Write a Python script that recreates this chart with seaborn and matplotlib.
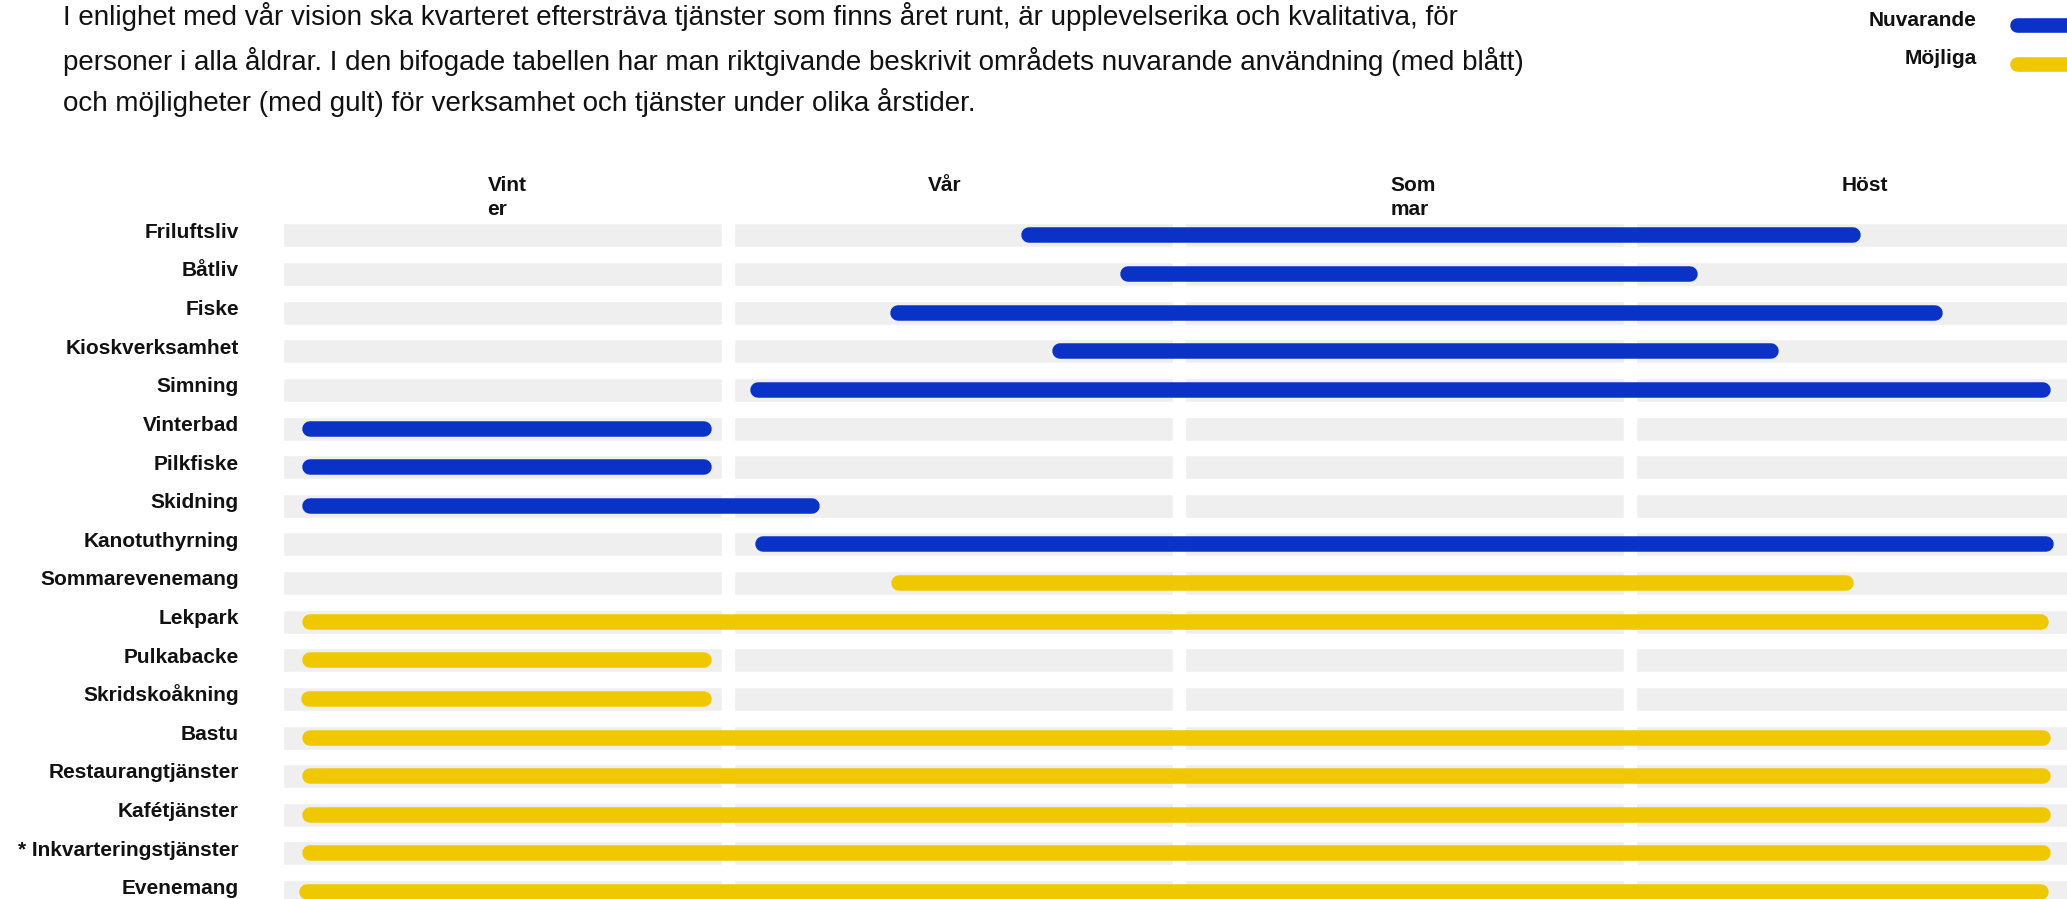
import pandas as pd
import matplotlib.pyplot as plt
from matplotlib.lines import Line2D
import seaborn as sns

# --- data ------------------------------------------------------------------
activities = ["Friluftsliv", "Båtliv", "Fiske", "Kioskverksamhet", "Simning",
              "Vinterbad", "Pilkfiske", "Skidning", "Kanotuthyrning",
              "Sommarevenemang", "Lekpark", "Pulkabacke", "Skridskoåkning",
              "Bastu", "Restaurangtjänster", "Kafétjänster",
              "* Inkvarteringstjänster", "Evenemang"]
status = ["Nuvarande"] * 9 + ["Möjliga"] * 9
# season axis in months: Vinter 0-3, Vår 3-6, Sommar 6-9, Höst 9-12
start = [4.91, 5.57, 4.04, 5.12, 3.11, 0.13, 0.13, 0.13, 3.14,
         4.05, 0.13, 0.13, 0.12, 0.13, 0.13, 0.13, 0.13, 0.11]
end = [10.50, 9.41, 11.04, 9.95, 11.76, 2.85, 2.85, 3.57, 11.78,
       10.45, 11.75, 2.85, 2.85, 11.76, 11.76, 11.76, 11.76, 11.75]
seasons = ["Vint\ner", "Vår", "Som\nmar", "Höst"]
season_label_x = [1.36, 4.29, 7.37, 10.37]
intro = ["I enlighet med vår vision ska kvarteret eftersträva tjänster som finns året runt, är upplevelserika och kvalitativa, för",
         "personer i alla åldrar. I den bifogade tabellen har man riktgivande beskrivit områdets nuvarande användning (med blått)",
         "och möjligheter (med gult) för verksamhet och tjänster under olika årstider."]
legend_labels = ["Nuvarande", "Möjliga"]

colors = {"Nuvarande": "#0a32c6", "Möjliga": "#f0c800"}

sns.set_theme(style="white")
plt.rcParams["font.family"] = ["Liberation Sans", "DejaVu Sans"]

W, H = 2067, 899
fig = plt.figure(figsize=(W / 100, H / 100), dpi=100)
ax = fig.add_axes([283 / W, 0, 1 - 283 / W, 684 / H])

xmax = 11.87
ax.set_xlim(0, xmax)
ax.set_ylim(17.18, -0.53)

rows = list(range(len(activities)))
for s in range(4):
    ax.barh(rows, 2.92, left=3 * s, height=0.62, color="#efefef", zorder=1)

# bars with round caps, shrink ends by cap radius so the visible extent matches
lw_px = 15.5
px_per_unit = (W - 283) / xmax
cap = lw_px / 2 / px_per_unit
recs = []
for i, a in enumerate(activities):
    recs.append({"activity": a, "row": i, "x": start[i] + cap, "status": status[i]})
    recs.append({"activity": a, "row": i, "x": end[i] - cap, "status": status[i]})
df = pd.DataFrame(recs)

sns.lineplot(data=df, x="x", y="row", hue="status", units="activity",
             estimator=None, palette=colors, lw=lw_px * 0.72,
             solid_capstyle="round", legend=False, ax=ax, zorder=3)

ax.set_xlim(0, xmax)
ax.set_ylim(17.18, -0.53)
ax.set_axis_off()

for i, a in enumerate(activities):
    ax.text(-0.293, i + 0.06, a, ha="right", va="baseline", fontsize=15,
            fontweight="bold", color="#111111", clip_on=False)

for s, name in enumerate(seasons):
    ax.text(season_label_x[s], -1.54, name, ha="left", va="top",
            multialignment="left", fontsize=15, fontweight="bold",
            linespacing=1.35, color="#111111", clip_on=False)

for k, line in enumerate(intro):
    fig.text(63 / W, 1 - [25, 70, 111][k] / H, line, fontsize=20,
             va="baseline", color="#111111")

for k, lab in enumerate(legend_labels):
    fig.text(1977 / W, 1 - [26, 64][k] / H, lab, ha="right", va="baseline",
             fontsize=15, fontweight="bold", color="#111111")
    yy = 1 - [24.5, 63.5][k] / H
    fig.add_artist(Line2D([2017 / W, 1.05], [yy, yy], transform=fig.transFigure,
                          lw=10.5, color=colors[lab], solid_capstyle="round"))

fig.savefig("out.png", dpi=100)
